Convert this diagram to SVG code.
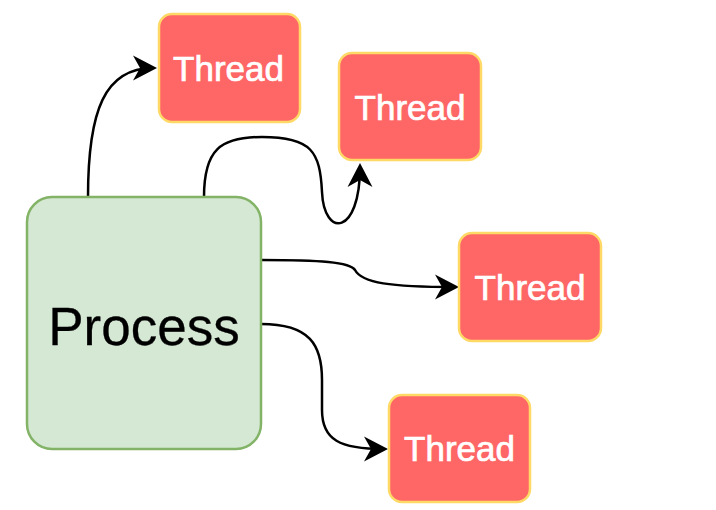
<svg xmlns="http://www.w3.org/2000/svg" width="716" height="510" viewBox="0 0 716 510">
<defs>
<style>
.thread rect{fill:#FF6666;stroke:#FFD966;stroke-width:2.5}
.thread text{fill:#FFFFFF;stroke:#FFFFFF;stroke-width:0.7;font-family:"Liberation Sans",Arial,sans-serif;font-size:35px;text-anchor:middle}
.proc rect{fill:#D5E8D4;stroke:#82B366;stroke-width:2.5}
.proc text{fill:#000000;stroke:#000000;stroke-width:0.3;font-family:"Liberation Sans",Arial,sans-serif;font-size:53px;text-anchor:middle}
.edge{fill:none;stroke:#000000;stroke-width:2.5;marker-end:url(#arr)}
</style>
<marker id="arr" markerUnits="userSpaceOnUse" markerWidth="40" markerHeight="40" viewBox="-25 -15 40 30" refX="0" refY="0" orient="auto" overflow="visible">
<path d="M4,0 L-20,-12.5 L-13,0 L-20,12.5 Z" fill="#000000"/>
</marker>
</defs>
<rect width="716" height="510" fill="#FFFFFF"/>
<g id="connectors">
<path class="edge" d="M88,197 C88,110 105,68 153,68"/>
<path class="edge" d="M204,197 C204,150 220,137 262,137 C312,137 320,152 322,192 C324,238 360,236 360,167"/>
<path class="edge" d="M261,260 C320,260 350,262 355,270 C362,283 390,287 455,287"/>
<path class="edge" d="M261,324 C310,324 322,345 322,380 L322,410 C322,440 340,449 384,449"/>
</g>
<g id="process" class="proc">
<rect x="27" y="197" width="234" height="252" rx="25" ry="25"/>
<text x="144" y="345">Process</text>
</g>
<g id="thread1" class="thread">
<rect x="159" y="14" width="141" height="108" rx="13" ry="13"/>
<text x="228.5" y="81">Thread</text>
</g>
<g id="thread2" class="thread">
<rect x="339" y="53" width="142" height="107" rx="13" ry="13"/>
<text x="410" y="120">Thread</text>
</g>
<g id="thread3" class="thread">
<rect x="459" y="233" width="142" height="108" rx="13" ry="13"/>
<text x="530" y="300">Thread</text>
</g>
<g id="thread4" class="thread">
<rect x="389" y="395" width="141" height="107" rx="13" ry="13"/>
<text x="459.5" y="461">Thread</text>
</g>
</svg>
